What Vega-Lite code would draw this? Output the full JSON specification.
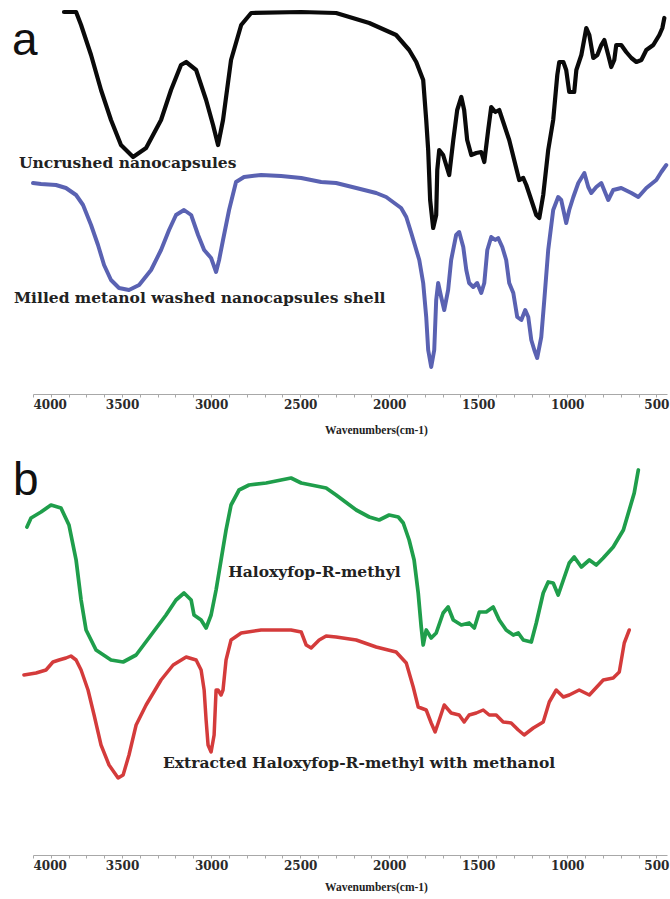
{
  "$schema": "https://vega.github.io/schema/vega-lite/v6.json",
  "padding": {"left": 11, "top": 5, "right": 3, "bottom": 2},
  "bounds": "flush",
  "spacing": 61,
  "background": "white",
  "config": {
    "view": {"stroke": null},
    "axis": {"grid": false}
  },
  "datasets": {
    "specA": [
      {"wn": 3826, "t": 382, "series": "Uncrushed"},
      {"wn": 3758, "t": 382, "series": "Uncrushed"},
      {"wn": 3730, "t": 369, "series": "Uncrushed"},
      {"wn": 3674, "t": 339, "series": "Uncrushed"},
      {"wn": 3618, "t": 304, "series": "Uncrushed"},
      {"wn": 3562, "t": 274, "series": "Uncrushed"},
      {"wn": 3506, "t": 249, "series": "Uncrushed"},
      {"wn": 3438, "t": 237, "series": "Uncrushed"},
      {"wn": 3365, "t": 246, "series": "Uncrushed"},
      {"wn": 3281, "t": 274, "series": "Uncrushed"},
      {"wn": 3225, "t": 304, "series": "Uncrushed"},
      {"wn": 3169, "t": 329, "series": "Uncrushed"},
      {"wn": 3140, "t": 332, "series": "Uncrushed"},
      {"wn": 3084, "t": 324, "series": "Uncrushed"},
      {"wn": 3028, "t": 294, "series": "Uncrushed"},
      {"wn": 2989, "t": 269, "series": "Uncrushed"},
      {"wn": 2961, "t": 249, "series": "Uncrushed"},
      {"wn": 2933, "t": 274, "series": "Uncrushed"},
      {"wn": 2888, "t": 334, "series": "Uncrushed"},
      {"wn": 2831, "t": 369, "series": "Uncrushed"},
      {"wn": 2775, "t": 381, "series": "Uncrushed"},
      {"wn": 2494, "t": 382, "series": "Uncrushed"},
      {"wn": 2298, "t": 381, "series": "Uncrushed"},
      {"wn": 2112, "t": 371, "series": "Uncrushed"},
      {"wn": 1961, "t": 359, "series": "Uncrushed"},
      {"wn": 1888, "t": 344, "series": "Uncrushed"},
      {"wn": 1848, "t": 332, "series": "Uncrushed"},
      {"wn": 1809, "t": 314, "series": "Uncrushed"},
      {"wn": 1792, "t": 274, "series": "Uncrushed"},
      {"wn": 1781, "t": 244, "series": "Uncrushed"},
      {"wn": 1770, "t": 194, "series": "Uncrushed"},
      {"wn": 1753, "t": 166, "series": "Uncrushed"},
      {"wn": 1736, "t": 179, "series": "Uncrushed"},
      {"wn": 1730, "t": 224, "series": "Uncrushed"},
      {"wn": 1719, "t": 244, "series": "Uncrushed"},
      {"wn": 1697, "t": 239, "series": "Uncrushed"},
      {"wn": 1680, "t": 229, "series": "Uncrushed"},
      {"wn": 1663, "t": 219, "series": "Uncrushed"},
      {"wn": 1640, "t": 254, "series": "Uncrushed"},
      {"wn": 1618, "t": 284, "series": "Uncrushed"},
      {"wn": 1595, "t": 297, "series": "Uncrushed"},
      {"wn": 1579, "t": 284, "series": "Uncrushed"},
      {"wn": 1562, "t": 254, "series": "Uncrushed"},
      {"wn": 1539, "t": 239, "series": "Uncrushed"},
      {"wn": 1511, "t": 241, "series": "Uncrushed"},
      {"wn": 1483, "t": 242, "series": "Uncrushed"},
      {"wn": 1466, "t": 232, "series": "Uncrushed"},
      {"wn": 1444, "t": 264, "series": "Uncrushed"},
      {"wn": 1427, "t": 287, "series": "Uncrushed"},
      {"wn": 1404, "t": 282, "series": "Uncrushed"},
      {"wn": 1382, "t": 284, "series": "Uncrushed"},
      {"wn": 1354, "t": 269, "series": "Uncrushed"},
      {"wn": 1326, "t": 254, "series": "Uncrushed"},
      {"wn": 1298, "t": 234, "series": "Uncrushed"},
      {"wn": 1270, "t": 214, "series": "Uncrushed"},
      {"wn": 1247, "t": 216, "series": "Uncrushed"},
      {"wn": 1230, "t": 209, "series": "Uncrushed"},
      {"wn": 1202, "t": 194, "series": "Uncrushed"},
      {"wn": 1174, "t": 179, "series": "Uncrushed"},
      {"wn": 1157, "t": 176, "series": "Uncrushed"},
      {"wn": 1135, "t": 199, "series": "Uncrushed"},
      {"wn": 1107, "t": 244, "series": "Uncrushed"},
      {"wn": 1079, "t": 274, "series": "Uncrushed"},
      {"wn": 1056, "t": 319, "series": "Uncrushed"},
      {"wn": 1045, "t": 332, "series": "Uncrushed"},
      {"wn": 1022, "t": 332, "series": "Uncrushed"},
      {"wn": 1006, "t": 324, "series": "Uncrushed"},
      {"wn": 989, "t": 302, "series": "Uncrushed"},
      {"wn": 961, "t": 302, "series": "Uncrushed"},
      {"wn": 949, "t": 324, "series": "Uncrushed"},
      {"wn": 921, "t": 339, "series": "Uncrushed"},
      {"wn": 893, "t": 366, "series": "Uncrushed"},
      {"wn": 876, "t": 359, "series": "Uncrushed"},
      {"wn": 854, "t": 336, "series": "Uncrushed"},
      {"wn": 831, "t": 339, "series": "Uncrushed"},
      {"wn": 809, "t": 349, "series": "Uncrushed"},
      {"wn": 792, "t": 354, "series": "Uncrushed"},
      {"wn": 770, "t": 339, "series": "Uncrushed"},
      {"wn": 753, "t": 327, "series": "Uncrushed"},
      {"wn": 736, "t": 334, "series": "Uncrushed"},
      {"wn": 725, "t": 349, "series": "Uncrushed"},
      {"wn": 697, "t": 349, "series": "Uncrushed"},
      {"wn": 669, "t": 342, "series": "Uncrushed"},
      {"wn": 640, "t": 336, "series": "Uncrushed"},
      {"wn": 612, "t": 332, "series": "Uncrushed"},
      {"wn": 584, "t": 334, "series": "Uncrushed"},
      {"wn": 556, "t": 344, "series": "Uncrushed"},
      {"wn": 517, "t": 349, "series": "Uncrushed"},
      {"wn": 483, "t": 359, "series": "Uncrushed"},
      {"wn": 466, "t": 366, "series": "Uncrushed"},
      {"wn": 455, "t": 376, "series": "Uncrushed"},
      {"wn": 4000, "t": 211, "series": "Milled"},
      {"wn": 3955, "t": 210, "series": "Milled"},
      {"wn": 3871, "t": 209, "series": "Milled"},
      {"wn": 3815, "t": 206, "series": "Milled"},
      {"wn": 3758, "t": 199, "series": "Milled"},
      {"wn": 3719, "t": 189, "series": "Milled"},
      {"wn": 3674, "t": 169, "series": "Milled"},
      {"wn": 3635, "t": 149, "series": "Milled"},
      {"wn": 3601, "t": 129, "series": "Milled"},
      {"wn": 3562, "t": 114, "series": "Milled"},
      {"wn": 3517, "t": 106, "series": "Milled"},
      {"wn": 3461, "t": 104, "series": "Milled"},
      {"wn": 3404, "t": 109, "series": "Milled"},
      {"wn": 3337, "t": 124, "series": "Milled"},
      {"wn": 3281, "t": 144, "series": "Milled"},
      {"wn": 3236, "t": 164, "series": "Milled"},
      {"wn": 3197, "t": 179, "series": "Milled"},
      {"wn": 3152, "t": 184, "series": "Milled"},
      {"wn": 3112, "t": 179, "series": "Milled"},
      {"wn": 3073, "t": 159, "series": "Milled"},
      {"wn": 3039, "t": 144, "series": "Milled"},
      {"wn": 3000, "t": 136, "series": "Milled"},
      {"wn": 2972, "t": 122, "series": "Milled"},
      {"wn": 2955, "t": 134, "series": "Milled"},
      {"wn": 2933, "t": 154, "series": "Milled"},
      {"wn": 2899, "t": 184, "series": "Milled"},
      {"wn": 2860, "t": 212, "series": "Milled"},
      {"wn": 2815, "t": 217, "series": "Milled"},
      {"wn": 2719, "t": 219, "series": "Milled"},
      {"wn": 2607, "t": 218, "series": "Milled"},
      {"wn": 2494, "t": 216, "series": "Milled"},
      {"wn": 2382, "t": 212, "series": "Milled"},
      {"wn": 2298, "t": 211, "series": "Milled"},
      {"wn": 2185, "t": 206, "series": "Milled"},
      {"wn": 2073, "t": 201, "series": "Milled"},
      {"wn": 2017, "t": 197, "series": "Milled"},
      {"wn": 1933, "t": 186, "series": "Milled"},
      {"wn": 1904, "t": 177, "series": "Milled"},
      {"wn": 1876, "t": 161, "series": "Milled"},
      {"wn": 1831, "t": 134, "series": "Milled"},
      {"wn": 1809, "t": 111, "series": "Milled"},
      {"wn": 1792, "t": 77, "series": "Milled"},
      {"wn": 1781, "t": 44, "series": "Milled"},
      {"wn": 1764, "t": 27, "series": "Milled"},
      {"wn": 1747, "t": 44, "series": "Milled"},
      {"wn": 1736, "t": 94, "series": "Milled"},
      {"wn": 1725, "t": 111, "series": "Milled"},
      {"wn": 1708, "t": 97, "series": "Milled"},
      {"wn": 1691, "t": 84, "series": "Milled"},
      {"wn": 1669, "t": 104, "series": "Milled"},
      {"wn": 1652, "t": 134, "series": "Milled"},
      {"wn": 1624, "t": 159, "series": "Milled"},
      {"wn": 1607, "t": 162, "series": "Milled"},
      {"wn": 1584, "t": 147, "series": "Milled"},
      {"wn": 1567, "t": 124, "series": "Milled"},
      {"wn": 1551, "t": 111, "series": "Milled"},
      {"wn": 1528, "t": 107, "series": "Milled"},
      {"wn": 1506, "t": 111, "series": "Milled"},
      {"wn": 1483, "t": 101, "series": "Milled"},
      {"wn": 1466, "t": 111, "series": "Milled"},
      {"wn": 1449, "t": 144, "series": "Milled"},
      {"wn": 1427, "t": 157, "series": "Milled"},
      {"wn": 1404, "t": 154, "series": "Milled"},
      {"wn": 1388, "t": 156, "series": "Milled"},
      {"wn": 1365, "t": 147, "series": "Milled"},
      {"wn": 1343, "t": 134, "series": "Milled"},
      {"wn": 1326, "t": 111, "series": "Milled"},
      {"wn": 1303, "t": 101, "series": "Milled"},
      {"wn": 1281, "t": 77, "series": "Milled"},
      {"wn": 1258, "t": 74, "series": "Milled"},
      {"wn": 1236, "t": 84, "series": "Milled"},
      {"wn": 1219, "t": 77, "series": "Milled"},
      {"wn": 1202, "t": 54, "series": "Milled"},
      {"wn": 1185, "t": 44, "series": "Milled"},
      {"wn": 1169, "t": 36, "series": "Milled"},
      {"wn": 1146, "t": 57, "series": "Milled"},
      {"wn": 1129, "t": 94, "series": "Milled"},
      {"wn": 1107, "t": 144, "series": "Milled"},
      {"wn": 1079, "t": 184, "series": "Milled"},
      {"wn": 1051, "t": 197, "series": "Milled"},
      {"wn": 1034, "t": 194, "series": "Milled"},
      {"wn": 1006, "t": 171, "series": "Milled"},
      {"wn": 989, "t": 184, "series": "Milled"},
      {"wn": 966, "t": 197, "series": "Milled"},
      {"wn": 938, "t": 211, "series": "Milled"},
      {"wn": 904, "t": 221, "series": "Milled"},
      {"wn": 882, "t": 207, "series": "Milled"},
      {"wn": 865, "t": 201, "series": "Milled"},
      {"wn": 837, "t": 207, "series": "Milled"},
      {"wn": 809, "t": 211, "series": "Milled"},
      {"wn": 770, "t": 194, "series": "Milled"},
      {"wn": 742, "t": 204, "series": "Milled"},
      {"wn": 697, "t": 206, "series": "Milled"},
      {"wn": 640, "t": 201, "series": "Milled"},
      {"wn": 601, "t": 197, "series": "Milled"},
      {"wn": 556, "t": 206, "series": "Milled"},
      {"wn": 500, "t": 214, "series": "Milled"},
      {"wn": 472, "t": 222, "series": "Milled"},
      {"wn": 444, "t": 229, "series": "Milled"}
    ],
    "specB": [
      {"wn": 4034, "t": 328, "series": "Haloxyfop"},
      {"wn": 4011, "t": 337, "series": "Haloxyfop"},
      {"wn": 3955, "t": 343, "series": "Haloxyfop"},
      {"wn": 3899, "t": 350, "series": "Haloxyfop"},
      {"wn": 3843, "t": 347, "series": "Haloxyfop"},
      {"wn": 3798, "t": 330, "series": "Haloxyfop"},
      {"wn": 3758, "t": 295, "series": "Haloxyfop"},
      {"wn": 3730, "t": 255, "series": "Haloxyfop"},
      {"wn": 3702, "t": 225, "series": "Haloxyfop"},
      {"wn": 3646, "t": 205, "series": "Haloxyfop"},
      {"wn": 3562, "t": 195, "series": "Haloxyfop"},
      {"wn": 3494, "t": 193, "series": "Haloxyfop"},
      {"wn": 3421, "t": 200, "series": "Haloxyfop"},
      {"wn": 3337, "t": 220, "series": "Haloxyfop"},
      {"wn": 3253, "t": 240, "series": "Haloxyfop"},
      {"wn": 3197, "t": 255, "series": "Haloxyfop"},
      {"wn": 3152, "t": 262, "series": "Haloxyfop"},
      {"wn": 3112, "t": 255, "series": "Haloxyfop"},
      {"wn": 3096, "t": 240, "series": "Haloxyfop"},
      {"wn": 3056, "t": 235, "series": "Haloxyfop"},
      {"wn": 3028, "t": 227, "series": "Haloxyfop"},
      {"wn": 3000, "t": 240, "series": "Haloxyfop"},
      {"wn": 2972, "t": 265, "series": "Haloxyfop"},
      {"wn": 2944, "t": 295, "series": "Haloxyfop"},
      {"wn": 2916, "t": 325, "series": "Haloxyfop"},
      {"wn": 2888, "t": 350, "series": "Haloxyfop"},
      {"wn": 2843, "t": 365, "series": "Haloxyfop"},
      {"wn": 2787, "t": 370, "series": "Haloxyfop"},
      {"wn": 2691, "t": 372, "series": "Haloxyfop"},
      {"wn": 2607, "t": 375, "series": "Haloxyfop"},
      {"wn": 2551, "t": 377, "series": "Haloxyfop"},
      {"wn": 2494, "t": 372, "series": "Haloxyfop"},
      {"wn": 2438, "t": 370, "series": "Haloxyfop"},
      {"wn": 2354, "t": 367, "series": "Haloxyfop"},
      {"wn": 2298, "t": 360, "series": "Haloxyfop"},
      {"wn": 2185, "t": 345, "series": "Haloxyfop"},
      {"wn": 2112, "t": 338, "series": "Haloxyfop"},
      {"wn": 2056, "t": 335, "series": "Haloxyfop"},
      {"wn": 2000, "t": 340, "series": "Haloxyfop"},
      {"wn": 1949, "t": 338, "series": "Haloxyfop"},
      {"wn": 1921, "t": 332, "series": "Haloxyfop"},
      {"wn": 1888, "t": 315, "series": "Haloxyfop"},
      {"wn": 1860, "t": 295, "series": "Haloxyfop"},
      {"wn": 1837, "t": 262, "series": "Haloxyfop"},
      {"wn": 1820, "t": 228, "series": "Haloxyfop"},
      {"wn": 1809, "t": 210, "series": "Haloxyfop"},
      {"wn": 1792, "t": 225, "series": "Haloxyfop"},
      {"wn": 1764, "t": 217, "series": "Haloxyfop"},
      {"wn": 1736, "t": 222, "series": "Haloxyfop"},
      {"wn": 1697, "t": 242, "series": "Haloxyfop"},
      {"wn": 1669, "t": 248, "series": "Haloxyfop"},
      {"wn": 1640, "t": 235, "series": "Haloxyfop"},
      {"wn": 1595, "t": 230, "series": "Haloxyfop"},
      {"wn": 1551, "t": 232, "series": "Haloxyfop"},
      {"wn": 1522, "t": 227, "series": "Haloxyfop"},
      {"wn": 1494, "t": 243, "series": "Haloxyfop"},
      {"wn": 1455, "t": 243, "series": "Haloxyfop"},
      {"wn": 1416, "t": 248, "series": "Haloxyfop"},
      {"wn": 1382, "t": 235, "series": "Haloxyfop"},
      {"wn": 1343, "t": 225, "series": "Haloxyfop"},
      {"wn": 1303, "t": 220, "series": "Haloxyfop"},
      {"wn": 1275, "t": 222, "series": "Haloxyfop"},
      {"wn": 1247, "t": 215, "series": "Haloxyfop"},
      {"wn": 1202, "t": 213, "series": "Haloxyfop"},
      {"wn": 1174, "t": 232, "series": "Haloxyfop"},
      {"wn": 1135, "t": 262, "series": "Haloxyfop"},
      {"wn": 1107, "t": 273, "series": "Haloxyfop"},
      {"wn": 1079, "t": 272, "series": "Haloxyfop"},
      {"wn": 1051, "t": 260, "series": "Haloxyfop"},
      {"wn": 1022, "t": 275, "series": "Haloxyfop"},
      {"wn": 989, "t": 292, "series": "Haloxyfop"},
      {"wn": 961, "t": 298, "series": "Haloxyfop"},
      {"wn": 921, "t": 288, "series": "Haloxyfop"},
      {"wn": 876, "t": 295, "series": "Haloxyfop"},
      {"wn": 837, "t": 290, "series": "Haloxyfop"},
      {"wn": 798, "t": 297, "series": "Haloxyfop"},
      {"wn": 742, "t": 308, "series": "Haloxyfop"},
      {"wn": 685, "t": 325, "series": "Haloxyfop"},
      {"wn": 652, "t": 345, "series": "Haloxyfop"},
      {"wn": 624, "t": 362, "series": "Haloxyfop"},
      {"wn": 601, "t": 385, "series": "Haloxyfop"},
      {"wn": 4051, "t": 180, "series": "Extracted"},
      {"wn": 3983, "t": 182, "series": "Extracted"},
      {"wn": 3927, "t": 185, "series": "Extracted"},
      {"wn": 3888, "t": 193, "series": "Extracted"},
      {"wn": 3854, "t": 195, "series": "Extracted"},
      {"wn": 3815, "t": 197, "series": "Extracted"},
      {"wn": 3787, "t": 199, "series": "Extracted"},
      {"wn": 3758, "t": 195, "series": "Extracted"},
      {"wn": 3730, "t": 185, "series": "Extracted"},
      {"wn": 3691, "t": 165, "series": "Extracted"},
      {"wn": 3657, "t": 140, "series": "Extracted"},
      {"wn": 3618, "t": 110, "series": "Extracted"},
      {"wn": 3573, "t": 90, "series": "Extracted"},
      {"wn": 3522, "t": 77, "series": "Extracted"},
      {"wn": 3494, "t": 80, "series": "Extracted"},
      {"wn": 3461, "t": 100, "series": "Extracted"},
      {"wn": 3421, "t": 130, "series": "Extracted"},
      {"wn": 3365, "t": 150, "series": "Extracted"},
      {"wn": 3281, "t": 175, "series": "Extracted"},
      {"wn": 3213, "t": 190, "series": "Extracted"},
      {"wn": 3140, "t": 198, "series": "Extracted"},
      {"wn": 3084, "t": 195, "series": "Extracted"},
      {"wn": 3056, "t": 185, "series": "Extracted"},
      {"wn": 3039, "t": 165, "series": "Extracted"},
      {"wn": 3028, "t": 135, "series": "Extracted"},
      {"wn": 3017, "t": 110, "series": "Extracted"},
      {"wn": 3000, "t": 103, "series": "Extracted"},
      {"wn": 2983, "t": 120, "series": "Extracted"},
      {"wn": 2972, "t": 165, "series": "Extracted"},
      {"wn": 2961, "t": 165, "series": "Extracted"},
      {"wn": 2944, "t": 160, "series": "Extracted"},
      {"wn": 2933, "t": 165, "series": "Extracted"},
      {"wn": 2916, "t": 195, "series": "Extracted"},
      {"wn": 2888, "t": 215, "series": "Extracted"},
      {"wn": 2831, "t": 222, "series": "Extracted"},
      {"wn": 2719, "t": 225, "series": "Extracted"},
      {"wn": 2551, "t": 225, "series": "Extracted"},
      {"wn": 2494, "t": 223, "series": "Extracted"},
      {"wn": 2466, "t": 210, "series": "Extracted"},
      {"wn": 2438, "t": 207, "series": "Extracted"},
      {"wn": 2393, "t": 215, "series": "Extracted"},
      {"wn": 2354, "t": 219, "series": "Extracted"},
      {"wn": 2298, "t": 218, "series": "Extracted"},
      {"wn": 2185, "t": 215, "series": "Extracted"},
      {"wn": 2073, "t": 208, "series": "Extracted"},
      {"wn": 1961, "t": 203, "series": "Extracted"},
      {"wn": 1904, "t": 192, "series": "Extracted"},
      {"wn": 1865, "t": 168, "series": "Extracted"},
      {"wn": 1837, "t": 148, "series": "Extracted"},
      {"wn": 1792, "t": 145, "series": "Extracted"},
      {"wn": 1764, "t": 132, "series": "Extracted"},
      {"wn": 1742, "t": 123, "series": "Extracted"},
      {"wn": 1719, "t": 135, "series": "Extracted"},
      {"wn": 1691, "t": 150, "series": "Extracted"},
      {"wn": 1652, "t": 142, "series": "Extracted"},
      {"wn": 1607, "t": 140, "series": "Extracted"},
      {"wn": 1579, "t": 133, "series": "Extracted"},
      {"wn": 1551, "t": 140, "series": "Extracted"},
      {"wn": 1511, "t": 142, "series": "Extracted"},
      {"wn": 1472, "t": 145, "series": "Extracted"},
      {"wn": 1438, "t": 140, "series": "Extracted"},
      {"wn": 1399, "t": 140, "series": "Extracted"},
      {"wn": 1360, "t": 133, "series": "Extracted"},
      {"wn": 1315, "t": 132, "series": "Extracted"},
      {"wn": 1275, "t": 125, "series": "Extracted"},
      {"wn": 1242, "t": 120, "series": "Extracted"},
      {"wn": 1191, "t": 127, "series": "Extracted"},
      {"wn": 1135, "t": 133, "series": "Extracted"},
      {"wn": 1101, "t": 153, "series": "Extracted"},
      {"wn": 1062, "t": 165, "series": "Extracted"},
      {"wn": 1022, "t": 158, "series": "Extracted"},
      {"wn": 989, "t": 160, "series": "Extracted"},
      {"wn": 933, "t": 165, "series": "Extracted"},
      {"wn": 876, "t": 160, "series": "Extracted"},
      {"wn": 798, "t": 175, "series": "Extracted"},
      {"wn": 742, "t": 177, "series": "Extracted"},
      {"wn": 708, "t": 183, "series": "Extracted"},
      {"wn": 680, "t": 212, "series": "Extracted"},
      {"wn": 652, "t": 225, "series": "Extracted"}
    ]
  },
  "vconcat": [
    {
      "width": 634,
      "height": 389,
      "layer": [
        {
          "data": {"name": "specA"},
          "mark": {"type": "line", "strokeJoin": "round", "strokeCap": "round", "clip": false},
          "encoding": {
            "x": {
              "field": "wn", "type": "quantitative",
              "scale": {"domain": [4000, 440], "nice": false, "zero": false},
              "axis": {
                "title": "Wavenumbers(cm-1)",
                "values": [4000, 3900, 3800, 3700, 3600, 3500, 3400, 3300, 3200, 3100, 3000, 2900, 2800, 2700, 2600, 2500, 2400, 2300, 2200, 2100, 2000, 1900, 1800, 1700, 1600, 1500, 1400, 1300, 1200, 1100, 1000, 900, 800, 700, 600, 500],
                "tickCount": 60,
                "format": "d",
                "labelExpr": "datum.value % 500 === 0 ? datum.label : ''",
                "domainColor": "#a8a8a8",
                "tickColor": "#a8a8a8",
                "tickSize": 3,
                "labelFont": "DejaVu Serif",
                "labelFontWeight": "bold",
                "labelFontSize": 12,
                "labelColor": "#2a2a2a",
                "labelPadding": 2,
                "labelOverlap": false,
                "titleFont": "Liberation Serif",
                "titleFontWeight": "bold",
                "titleFontSize": 11.5,
                "titleColor": "#222222",
                "titlePadding": 14,
                "titleX": 343
              }
            },
            "y": {
              "field": "t", "type": "quantitative",
              "scale": {"domain": [0, 389], "nice": false, "zero": false},
              "axis": null
            },
            "color": {
              "field": "series", "type": "nominal",
              "scale": {"domain": ["Uncrushed", "Milled", "Haloxyfop", "Extracted"], "range": ["#0a0a0a", "#5a62b2", "#1f9e4b", "#d43b3b"]},
              "legend": null
            },
            "strokeWidth": {
              "field": "series", "type": "nominal",
              "scale": {"domain": ["Uncrushed", "Milled", "Haloxyfop", "Extracted"], "range": [4.2, 3.5, 3.5, 3.5]},
              "legend": null
            }
          }
        },
        {
          "data": {"values": [
            {"wn": 4079, "t": 231, "label": "Uncrushed nanocapsules"},
            {"wn": 4107, "t": 96, "label": "Milled metanol washed nanocapsules shell"}
          ]},
          "mark": {"type": "text", "align": "left", "baseline": "middle", "font": "DejaVu Serif", "fontWeight": "bold", "fontSize": 15.5, "color": "#222222", "clip": false},
          "encoding": {
            "x": {"field": "wn", "type": "quantitative"},
            "y": {"field": "t", "type": "quantitative"},
            "text": {"field": "label"}
          }
        },
        {
          "data": {"values": [{"wn": 4118, "t": 339, "label": "a"}]},
          "mark": {"type": "text", "align": "left", "baseline": "alphabetic", "font": "Liberation Sans", "fontSize": 46, "color": "#111111", "clip": false},
          "encoding": {
            "x": {"field": "wn", "type": "quantitative"},
            "y": {"field": "t", "type": "quantitative"},
            "text": {"field": "label"}
          }
        }
      ]
    },
    {
      "width": 634,
      "height": 400,
      "layer": [
        {
          "data": {"name": "specB"},
          "mark": {"type": "line", "strokeJoin": "round", "strokeCap": "round", "clip": false},
          "encoding": {
            "x": {
              "field": "wn", "type": "quantitative",
              "scale": {"domain": [4000, 440], "nice": false, "zero": false},
              "axis": {
                "title": "Wavenumbers(cm-1)",
                "values": [4000, 3900, 3800, 3700, 3600, 3500, 3400, 3300, 3200, 3100, 3000, 2900, 2800, 2700, 2600, 2500, 2400, 2300, 2200, 2100, 2000, 1900, 1800, 1700, 1600, 1500, 1400, 1300, 1200, 1100, 1000, 900, 800, 700, 600, 500],
                "tickCount": 60,
                "format": "d",
                "labelExpr": "datum.value % 500 === 0 ? datum.label : ''",
                "domainColor": "#a8a8a8",
                "tickColor": "#a8a8a8",
                "tickSize": 3,
                "labelFont": "DejaVu Serif",
                "labelFontWeight": "bold",
                "labelFontSize": 12,
                "labelColor": "#2a2a2a",
                "labelPadding": 2,
                "labelOverlap": false,
                "titleFont": "Liberation Serif",
                "titleFontWeight": "bold",
                "titleFontSize": 11.5,
                "titleColor": "#222222",
                "titlePadding": 10,
                "titleX": 343
              }
            },
            "y": {
              "field": "t", "type": "quantitative",
              "scale": {"domain": [0, 400], "nice": false, "zero": false},
              "axis": null
            },
            "color": {
              "field": "series", "type": "nominal",
              "scale": {"domain": ["Uncrushed", "Milled", "Haloxyfop", "Extracted"], "range": ["#0a0a0a", "#5a62b2", "#1f9e4b", "#d43b3b"]},
              "legend": null
            },
            "strokeWidth": {
              "field": "series", "type": "nominal",
              "scale": {"domain": ["Uncrushed", "Milled", "Haloxyfop", "Extracted"], "range": [4.2, 3.5, 3.5, 3.5]},
              "legend": null
            }
          }
        },
        {
          "data": {"values": [
            {"wn": 2904, "t": 283, "label": "Haloxyfop-R-methyl"},
            {"wn": 3270, "t": 92, "label": "Extracted Haloxyfop-R-methyl  with methanol"}
          ]},
          "mark": {"type": "text", "align": "left", "baseline": "middle", "font": "DejaVu Serif", "fontWeight": "bold", "fontSize": 15.5, "color": "#222222", "clip": false},
          "encoding": {
            "x": {"field": "wn", "type": "quantitative"},
            "y": {"field": "t", "type": "quantitative"},
            "text": {"field": "label"}
          }
        },
        {
          "data": {"values": [{"wn": 4112, "t": 360, "label": "b"}]},
          "mark": {"type": "text", "align": "left", "baseline": "alphabetic", "font": "Liberation Sans", "fontSize": 46, "color": "#111111", "clip": false},
          "encoding": {
            "x": {"field": "wn", "type": "quantitative"},
            "y": {"field": "t", "type": "quantitative"},
            "text": {"field": "label"}
          }
        }
      ]
    }
  ]
}
